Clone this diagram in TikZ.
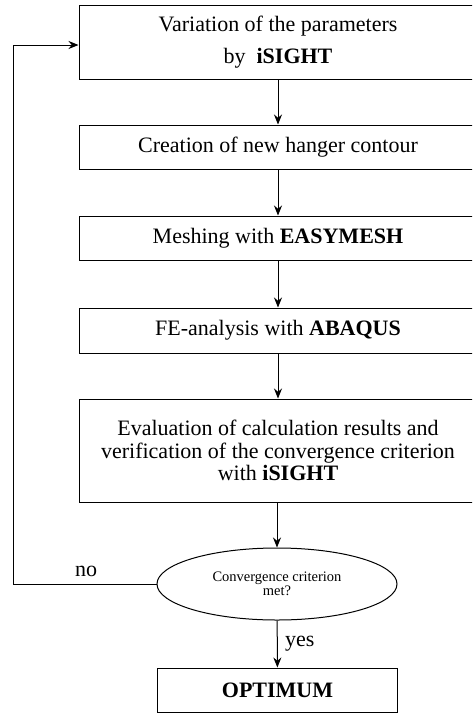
\documentclass[tikz,border=0pt]{standalone}
\usepackage{fontspec}
\setmainfont{Liberation Serif}
\usepackage{tikz}
\usetikzlibrary{shapes.geometric}
\usetikzlibrary{arrows.meta}

\begin{document}
\begin{tikzpicture}[x = 1pt, y = -1pt,
	stepbox/.style = {draw, line width = 1pt, minimum width = 398pt, inner sep = 0pt, font = \fontsize{22}{22.5}\selectfont, align = center},
	decision/.style = {draw, ellipse, line width = 1pt, minimum width = 240pt, minimum height = 72pt, inner sep = 0pt, font = \fontsize{14.5}{12}\selectfont, align = center},
	arr/.style = {line width = 1pt, -{Stealth[length = 10pt, width = 8pt]}}]
							\useasboundingbox (0, 0) rectangle (472, 713);
							\clip (0, 0) rectangle (472, 713);

							\node[stepbox, minimum height = 74pt](vary) at (278, 42){Variation of the parameters\\[10pt] by \ \textbf{iSIGHT}};
							\node[stepbox, minimum height = 44pt](contour) at (278, 147){Creation of new hanger contour};
							\node[stepbox, minimum height = 44pt](mesh) at (278, 238){Meshing with \textbf{EASYMESH}};
							\node[stepbox, minimum height = 45pt](fea) at (278, 330.5){FE-analysis with \textbf{ABAQUS}};
							\node[stepbox, minimum height = 103pt](eval) at (278, 450.5){Evaluation of calculation results and\\verification of the convergence criterion\\with \textbf{iSIGHT}};
							\node[decision](conv) at (277, 584){Convergence criterion\\met?};
							\node[stepbox, minimum width = 240pt, minimum height = 44pt](opt) at (277.5, 690){\textbf{OPTIMUM}};

							\draw[arr] (vary)--(contour);
							\draw[arr] (contour)--(mesh);
							\draw[arr] (mesh)--(fea);
							\draw[arr] (fea)--(eval);
							\draw[arr] (eval.south -| conv)--(conv);
							\draw[arr] (conv)--node[right = 4pt, font = \fontsize{22}{22.5}\selectfont]{yes}(opt);

							\coordinate[](back) at (13, 45);
							\draw[arr] (conv.west)-|(back)--(back -| vary.west);
							\node[font = \fontsize{22}{22.5}\selectfont](no) at (86, 571){no};
						\end{tikzpicture}
\end{document}
